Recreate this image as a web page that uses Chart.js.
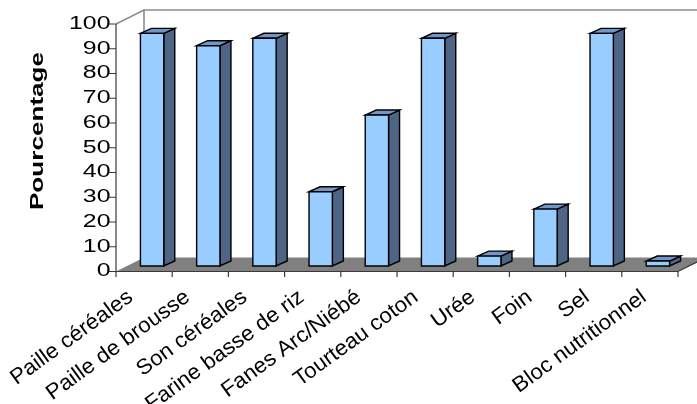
<!DOCTYPE html>
<html>
<head>
<meta charset="utf-8">
<script src="https://cdn.jsdelivr.net/npm/chart.js@4"></script>
<style>
  html, body { margin: 0; padding: 0; background: #ffffff; }
  #chart { display: block; }
</style>
</head>
<body>
<canvas id="chart" width="697" height="404"></canvas>
<script>
// Aliments utilisés (%)
const categories = [
  "Paille céréales", "Paille de brousse", "Son céréales", "Farine basse de riz",
  "Fanes Arc/Niébé", "Tourteau coton", "Urée", "Foin", "Sel", "Bloc nutritionnel"
];
const usagePercent = [94, 89, 92, 30, 61, 92, 4, 23, 94, 2];
const yTickValues = [0, 10, 20, 30, 40, 50, 60, 70, 80, 90, 100];
const yAxisTitle = "Pourcentage";

// Pseudo-3D look
const FLOOR_DX = 28, FLOOR_DY = -14;   // depth of the floor / walls
const BAR_SHIFT_X = 8, BAR_SHIFT_Y = -5.5; // bar plane inside the floor
const BAR_DX = 11, BAR_DY = -5;         // bar depth
const FONT = "'Liberation Sans', Arial, sans-serif";
const TICK_STRETCH = 1.42;
const LABEL_STRETCH = 1.04;

function stretchedText(ctx, text, x, y, angle, align, baseline, font, sx) {
  ctx.save();
  ctx.translate(x, y);
  ctx.rotate(angle);
  ctx.scale(sx, 1);
  ctx.font = font;
  ctx.fillStyle = '#000000';
  ctx.textAlign = align;
  ctx.textBaseline = baseline;
  ctx.fillText(text, 0, 0);
  ctx.restore();
}

function poly(ctx, pts, fill, stroke, lw) {
  ctx.beginPath();
  ctx.moveTo(pts[0][0], pts[0][1]);
  for (let i = 1; i < pts.length; i++) ctx.lineTo(pts[i][0], pts[i][1]);
  ctx.closePath();
  if (fill) { ctx.fillStyle = fill; ctx.fill(); }
  if (stroke) { ctx.strokeStyle = stroke; ctx.lineWidth = lw; ctx.stroke(); }
}

const box3d = {
  id: 'box3d',
  afterDraw(chart) {
    const ctx = chart.ctx;
    const a = chart.chartArea;
    const xs = chart.scales.x, ys = chart.scales.y;

    ctx.save();
    ctx.lineJoin = 'miter';

    // floor
    poly(ctx, [
      [a.left, a.bottom], [a.right, a.bottom],
      [a.right + FLOOR_DX, a.bottom + FLOOR_DY], [a.left + FLOOR_DX, a.bottom + FLOOR_DY]
    ], '#808080', null, 0);

    // wall outlines
    ctx.strokeStyle = '#8c8c8c';
    ctx.lineWidth = 1.6;
    ctx.beginPath();
    ctx.moveTo(a.left, a.top);
    ctx.lineTo(a.left + FLOOR_DX, a.top + FLOOR_DY);
    ctx.lineTo(a.right + FLOOR_DX, a.top + FLOOR_DY);
    ctx.moveTo(a.left + FLOOR_DX, a.top + FLOOR_DY);
    ctx.lineTo(a.left + FLOOR_DX, a.bottom + FLOOR_DY);
    ctx.stroke();

    // bars
    const meta = chart.getDatasetMeta(0);
    meta.data.forEach((el) => {
      const p = el.getProps(['x', 'y', 'base', 'width'], true);
      const l = p.x - p.width / 2 + BAR_SHIFT_X;
      const r = l + p.width;
      const t = p.y + BAR_SHIFT_Y;
      const b = p.base + BAR_SHIFT_Y;
      poly(ctx, [[r, t], [r + BAR_DX, t + BAR_DY], [r + BAR_DX, b + BAR_DY], [r, b]], '#4f6585', '#000', 1.4);
      poly(ctx, [[l, t], [l + BAR_DX, t + BAR_DY], [r + BAR_DX, t + BAR_DY], [r, t]], '#7097c6', '#000', 1.4);
      poly(ctx, [[l, t], [r, t], [r, b], [l, b]], '#99ccff', '#000', 1.4);
    });

    // axes
    ctx.strokeStyle = '#3a3a3a';
    ctx.lineWidth = 1.2;
    ctx.beginPath();
    ctx.moveTo(a.left, a.top);
    ctx.lineTo(a.left, a.bottom);
    ctx.lineTo(a.right, a.bottom);
    ctx.lineTo(a.right + FLOOR_DX, a.bottom + FLOOR_DY);
    yTickValues.forEach((v) => {
      const y = ys.getPixelForValue(v);
      ctx.moveTo(a.left - 7, y);
      ctx.lineTo(a.left, y);
    });
    const step = xs.getPixelForValue(1) - xs.getPixelForValue(0);
    for (let i = 0; i <= categories.length; i++) {
      const x = i < categories.length ? xs.getPixelForValue(i) - step / 2 : a.right;
      ctx.moveTo(x, a.bottom);
      ctx.lineTo(x, a.bottom + 5.5);
    }
    ctx.stroke();

    // y tick labels
    yTickValues.forEach((v) => {
      stretchedText(ctx, String(v), a.left - 5.5, ys.getPixelForValue(v), 0,
        'right', 'middle', '17.5px ' + FONT, TICK_STRETCH);
    });

    // category labels (anchors drift slightly right across the axis)
    const angle = -36 * Math.PI / 180;
    categories.forEach((c, i) => {
      stretchedText(ctx, c, xs.getPixelForValue(i) - 13.5 + 0.85 * i, a.bottom + 23.5, angle,
        'right', 'middle', '21.5px ' + FONT, LABEL_STRETCH);
    });

    // y axis title
    stretchedText(ctx, yAxisTitle, 38.5, 131, -Math.PI / 2,
      'center', 'middle', 'bold 18px ' + FONT, 1.45);

    ctx.restore();
  }
};

new Chart(document.getElementById('chart'), {
  type: 'bar',
  data: {
    labels: categories,
    datasets: [{
      label: yAxisTitle,
      data: usagePercent,
      backgroundColor: 'rgba(0,0,0,0)',
      borderWidth: 0,
      categoryPercentage: 1,
      barPercentage: 0.415
    }]
  },
  options: {
    responsive: false,
    devicePixelRatio: 1,
    animation: false,
    layout: { padding: { left: 116, right: 19, top: 24, bottom: 132.5 } },
    plugins: { legend: { display: false }, tooltip: { enabled: false } },
    scales: {
      x: { display: false, offset: true },
      y: { display: false, min: 0, max: 100, ticks: { stepSize: 10 } }
    }
  },
  plugins: [box3d]
});
</script>
</body>
</html>
